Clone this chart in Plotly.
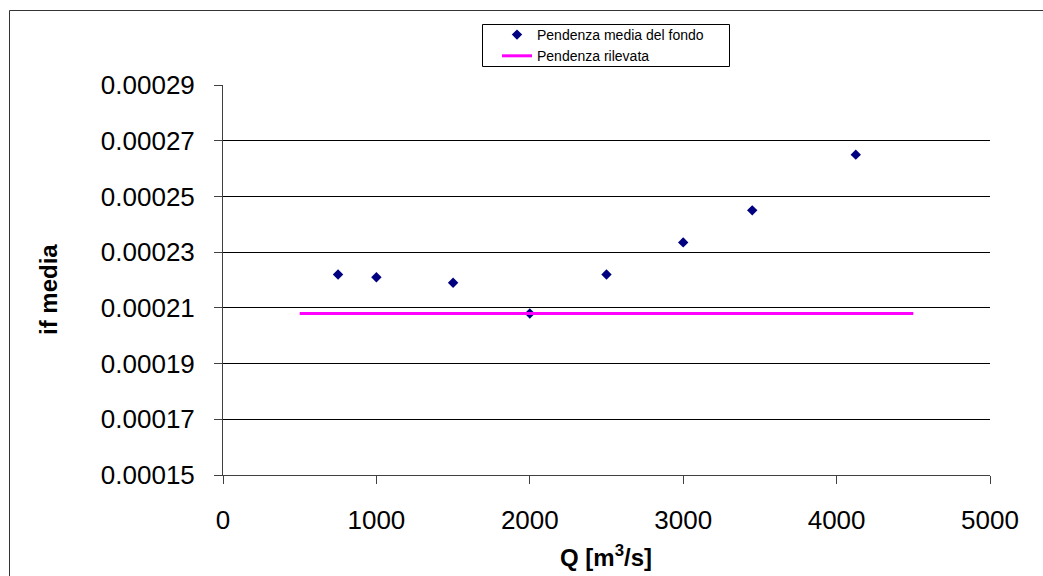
import plotly.graph_objects as go

# Data
q_values = [750, 1000, 1500, 2000, 2500, 3000, 3450, 4125]
slope_values = [0.000222, 0.000221, 0.000219, 0.000208, 0.000222, 0.0002335, 0.000245, 0.000265]
measured_q = [500, 4500]
measured_slope = [0.000208, 0.000208]

series_names = ["Pendenza media del fondo", "Pendenza rilevata"]
x_title = "Q [m<sup>3</sup>/s]"
y_title = "if media"

FONT = "Liberation Sans, Arial, sans-serif"

W, H = 1043, 576
L, R, T, B = 223, 53, 85, 101
pw, ph = W - L - R, H - T - B

def px_to_paper_x(px):
    return (px - L) / pw

def px_to_paper_y(py):
    return (H - B - py) / ph

fig = go.Figure()
fig.add_trace(go.Scatter(
    x=q_values, y=slope_values, mode="markers", name=series_names[0],
    marker=dict(symbol="diamond", size=8, color="#000080"),
))
fig.add_trace(go.Scatter(
    x=measured_q, y=measured_slope, mode="lines", name=series_names[1],
    line=dict(color="#FF00FF", width=3),
))

fig.update_layout(
    width=W, height=H,
    margin=dict(l=L, r=R, t=T, b=B, autoexpand=False),
    paper_bgcolor="white", plot_bgcolor="white",
    font=dict(family=FONT, color="black"),
    showlegend=True,
    legend=dict(
        x=px_to_paper_x(497), y=px_to_paper_y(19), xanchor="left", yanchor="top",
        borderwidth=0, bgcolor="rgba(0,0,0,0)",
        font=dict(size=14, family=FONT), tracegroupgap=0,
    ),
    xaxis=dict(
        range=[0, 5000], dtick=1000, tick0=0,
        showgrid=False, zeroline=False,
        showline=True, linecolor="#404040", linewidth=1,
        ticks="outside", ticklen=8, tickcolor="#404040",
        tickfont=dict(size=26, family=FONT),
        ticklabelstandoff=14,
    ),
    yaxis=dict(
        range=[0.00015, 0.00029], dtick=0.00002, tick0=0.00015,
        tickformat=".5f",
        showgrid=True, gridcolor="black", gridwidth=1, zeroline=False,
        showline=True, linecolor="#404040", linewidth=1,
        ticks="outside", ticklen=8, tickcolor="#404040",
        tickfont=dict(size=26, family=FONT),
        ticklabelstandoff=14,
    ),
    annotations=[
        dict(text="<b>" + x_title + "</b>", xref="paper", yref="paper",
             x=px_to_paper_x(606), y=px_to_paper_y(556), xanchor="center", yanchor="middle",
             showarrow=False, font=dict(size=24, family=FONT)),
        dict(text="<b>" + y_title + "</b>", xref="paper", yref="paper",
             x=px_to_paper_x(48), y=px_to_paper_y(290), xanchor="center", yanchor="middle",
             textangle=-90, showarrow=False, font=dict(size=24, family=FONT)),
    ],
    shapes=[
        # outer chart frame (cropped at right/bottom in the reference)
        dict(type="rect", xref="paper", yref="paper",
             x0=px_to_paper_x(9.5), y0=px_to_paper_y(10.5),
             x1=px_to_paper_x(1080), y1=px_to_paper_y(620),
             line=dict(color="#333333", width=1), fillcolor="rgba(0,0,0,0)", layer="below"),
        # legend frame
        dict(type="rect", xref="paper", yref="paper",
             x0=px_to_paper_x(482.5), y0=px_to_paper_y(24.5),
             x1=px_to_paper_x(729.5), y1=px_to_paper_y(66.5),
             line=dict(color="black", width=1), fillcolor="white", layer="below"),
    ],
)

fig.write_html("out.html")
